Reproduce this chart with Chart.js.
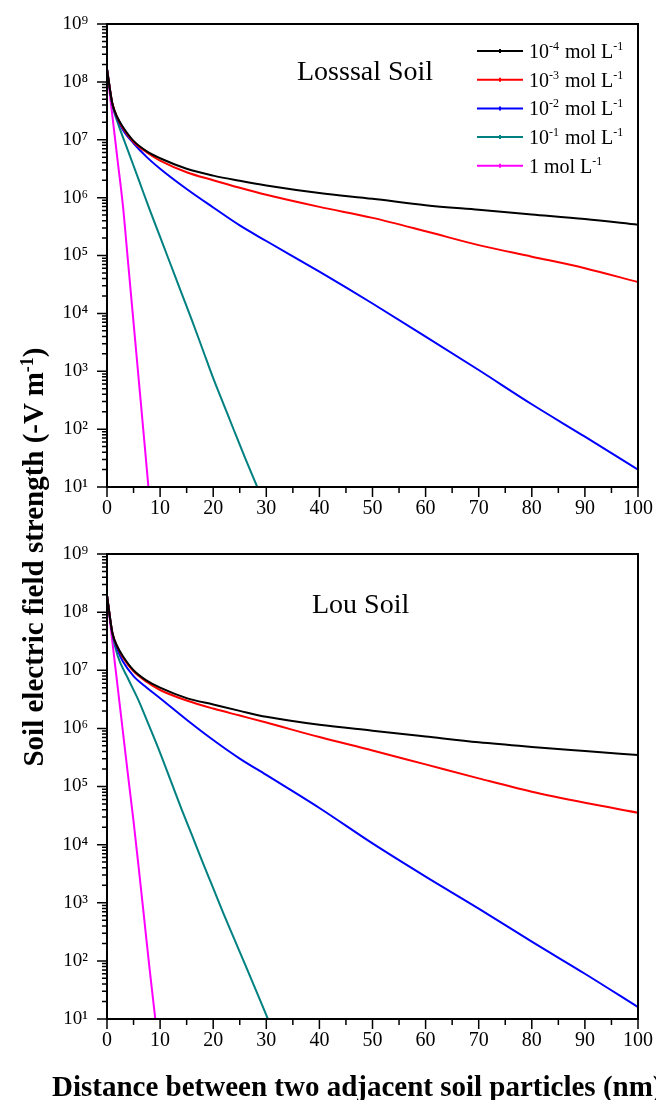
<!DOCTYPE html>
<html>
<head>
<meta charset="utf-8">
<script src="https://cdn.jsdelivr.net/npm/chart.js"></script>
<style>
  body { margin: 0; width: 656px; height: 1100px; position: relative; overflow: hidden; background: #fff; }
  canvas { position: absolute; left: 0; }
  .axis-title { position: absolute; font-family: "Liberation Serif", "Times New Roman", serif; font-weight: bold; color: #000; white-space: nowrap; }
  #ytitle { width: 500px; height: 30px; line-height: 30px; font-size: 29px; text-align: center; left: -217px; top: 542px; transform: rotate(-90deg); transform-origin: 50% 50%; }
  #xtitle { left: 52px; top: 1072px; font-size: 29px; line-height: 29px; }
  sup { font-size: 0.62em; line-height: 0; vertical-align: 0.55em; }
</style>
</head>
<body>
<canvas id="chartTop" width="656" height="535" style="top:0"></canvas>
<canvas id="chartBottom" width="656" height="565" style="top:535px"></canvas>
<div id="ytitle" class="axis-title">Soil electric field strength (-V m<sup>-1</sup>)</div>
<div id="xtitle" class="axis-title">Distance between two adjacent soil particles (nm)</div>
<script>
// distance (nm) for the three slow curves
const xMain = [0, 1, 2, 3, 5, 7.5, 10, 15, 20, 25, 30, 40, 50, 60, 70, 80, 90, 100];

const seriesLabels = ['10⁻⁴ mol L⁻¹', '10⁻³ mol L⁻¹', '10⁻² mol L⁻¹', '10⁻¹ mol L⁻¹', '1 mol L⁻¹'];
const seriesColors = ['#000000', '#ff0000', '#0000ff', '#008080', '#ff00ff'];

const yTickVals = [1e1, 1e2, 1e3, 1e4, 1e5, 1e6, 1e7, 1e8, 1e9];
const yTickLabels = ['10¹', '10²', '10³', '10⁴', '10⁵', '10⁶', '10⁷', '10⁸', '10⁹'];

/*---------------- Losssal soil ----------------*/
const lossBlack = [1.66e8, 4.27e7, 2.40e7, 1.66e7, 9.55e6, 6.31e6, 4.79e6, 3.16e6, 2.40e6, 1.95e6, 1.62e6, 1.20e6, 9.55e5, 7.41e5, 6.17e5, 5.13e5, 4.27e5, 3.39e5];
const lossRed = [1.66e8, 4.27e7, 2.34e7, 1.58e7, 9.12e6, 6.03e6, 4.37e6, 2.75e6, 2.0e6, 1.48e6, 1.12e6, 6.92e5, 4.47e5, 2.63e5, 1.51e5, 9.55e4, 6.03e4, 3.47e4];
const lossBlue = [1.66e8, 4.17e7, 2.24e7, 1.48e7, 8.71e6, 5.01e6, 3.16e6, 1.41e6, 6.76e5, 3.31e5, 1.78e5, 5.25e4, 1.48e4, 3.98e3, 1.05e3, 269, 74, 20];
const lossTealX = [0, 1, 2, 4, 6, 8, 10, 12, 14, 16, 18, 20, 22, 24, 26, 28.3];
const lossTeal = [1.66e8, 4.0e7, 2.0e7, 6.31e6, 2.0e6, 6.31e5, 2.09e5, 6.92e4, 2.29e4, 7.59e3, 2.40e3, 759, 263, 91, 32, 10];
const lossPinkX = [0, 1, 2, 3, 4, 5, 6, 7, 7.8];
const lossPink = [1.66e8, 2.63e7, 4.37e6, 7.24e5, 7.08e4, 6.92e3, 676, 66, 10];

/*---------------- Lou soil ----------------*/
const louBlack = [1.95e8, 4.47e7, 2.51e7, 1.74e7, 1.0e7, 6.61e6, 5.01e6, 3.31e6, 2.57e6, 2.0e6, 1.58e6, 1.15e6, 9.12e5, 7.24e5, 5.75e5, 4.79e5, 4.07e5, 3.47e5];
const louRed = [1.95e8, 4.47e7, 2.45e7, 1.66e7, 9.55e6, 6.31e6, 4.57e6, 3.02e6, 2.19e6, 1.66e6, 1.26e6, 7.08e5, 4.17e5, 2.40e5, 1.38e5, 8.13e4, 5.25e4, 3.55e4];
const louBlue = [1.95e8, 4.37e7, 2.24e7, 1.41e7, 7.94e6, 5.01e6, 3.31e6, 1.41e6, 6.31e5, 3.02e5, 1.58e5, 4.27e4, 1.05e4, 2.82e3, 794, 214, 60, 16];
const louTealX = [0, 1, 2, 4, 6, 8, 10, 12, 14, 16, 18, 20, 22, 24, 26, 28, 30.3];
const louTeal = [1.95e8, 4.27e7, 1.78e7, 7.08e6, 2.95e6, 1.07e6, 3.80e5, 1.26e5, 4.17e4, 1.45e4, 5.01e3, 1.78e3, 631, 234, 87, 32, 10];
const louPinkX = [0, 1, 2, 3, 4, 5, 6, 7, 8, 9.1];
const louPink = [1.95e8, 3.16e7, 5.25e6, 8.71e5, 1.45e5, 2.51e4, 3.80e3, 537, 76, 10];

const serif = '"Liberation Serif", "Times New Roman", "DejaVu Serif", serif';
const supMap = { '⁻': '-', '⁰': '0', '¹': '1', '²': '2', '³': '3', '⁴': '4', '⁵': '5', '⁶': '6', '⁷': '7', '⁸': '8', '⁹': '9' };

// writes a label, turning superscript characters into small raised text
function drawRich(ctx, text, x, y, size) {
  let i = 0;
  while (i < text.length) {
    const sup = text[i] in supMap;
    let part = '';
    while (i < text.length && (text[i] in supMap) === sup) {
      part += sup ? supMap[text[i]] : text[i];
      i++;
    }
    ctx.font = (sup ? Math.round(size * 0.6) : size) + 'px ' + serif;
    ctx.fillText(part, x, sup ? y - size * 0.4 : y);
    x += ctx.measureText(part).width + (sup ? 1 : 0);
  }
}

// box, tick marks, panel name and legend
const framePlugin = {
  id: 'frame',
  afterDatasetsDraw(chart, args, opts) {
    const ctx = chart.ctx;
    const a = chart.chartArea;
    const x = chart.scales.x, y = chart.scales.y;
    ctx.save();
    ctx.strokeStyle = '#000';
    ctx.lineWidth = 1.5;
    ctx.beginPath();
    for (let e = 1; e <= 9; e++) {
      for (let m = 1; m <= 9; m++) {
        if (e === 9 && m > 1) break;
        const py = y.getPixelForValue(m * Math.pow(10, e));
        const len = m === 1 ? 10 : 5;
        ctx.moveTo(a.left - len, py);
        ctx.lineTo(a.left, py);
      }
    }
    for (let v = 0; v <= 100; v += 5) {
      const px = x.getPixelForValue(v);
      ctx.moveTo(px, a.bottom);
      ctx.lineTo(px, a.bottom + (v % 10 ? 6 : 10));
    }
    ctx.stroke();
    ctx.lineWidth = 2;
    ctx.strokeRect(a.left, a.top, a.right - a.left, a.bottom - a.top);

    ctx.fillStyle = '#000';
    ctx.font = '28px ' + serif;
    ctx.textBaseline = 'alphabetic';
    ctx.fillText(opts.title, a.left + opts.tx, a.top + opts.ty);

    if (opts.legend) {
      chart.data.datasets.forEach(function(ds, i) {
        const ry = a.top + 27 + i * 28.7;
        ctx.strokeStyle = ds.borderColor;
        ctx.lineWidth = 2;
        ctx.beginPath();
        ctx.moveTo(a.left + 370, ry);
        ctx.lineTo(a.left + 416, ry);
        ctx.moveTo(a.left + 393, ry - 2);
        ctx.lineTo(a.left + 393, ry + 2);
        ctx.stroke();
        drawRich(ctx, ds.label, a.left + 422, ry + 7, 20);
      });
    }
    ctx.restore();
  }
};

function makeChart(id, lines, frame) {
  return new Chart(id, {
    type: 'line',
    data: {
      datasets: lines.map(function(l, i) {
        return {
          label: seriesLabels[i],
          data: l[0].map(function(xv, j) { return { x: xv, y: l[1][j] }; }),
          borderColor: seriesColors[i],
          borderWidth: 2,
          pointRadius: 0,
          cubicInterpolationMode: 'monotone',
          fill: false
        };
      })
    },
    options: {
      responsive: false,
      animation: false,
      devicePixelRatio: 1,
      layout: { padding: { top: frame.padTop, right: 18, left: 0, bottom: 0 } },
      plugins: {
        legend: { display: false },
        tooltip: { enabled: false },
        frame: frame
      },
      scales: {
        x: {
          type: 'linear', min: 0, max: 100,
          afterFit: function(s) { s.height = frame.xh; s.paddingLeft = 0; s.paddingRight = 0; },
          grid: { display: false, drawTicks: false },
          border: { display: false },
          ticks: { stepSize: 10, padding: 10, autoSkip: false, maxRotation: 0, color: '#000', font: { family: serif, size: 20 } }
        },
        y: {
          type: 'logarithmic', min: 10, max: 1e9,
          afterFit: function(s) { s.width = 107; s.paddingTop = 0; s.paddingBottom = 0; },
          afterBuildTicks: function(s) { s.ticks = yTickVals.map(function(v) { return { value: v }; }); },
          grid: { display: false, drawTicks: false },
          border: { display: false },
          ticks: {
            padding: 19, autoSkip: false, color: '#000', font: { family: serif, size: 19 },
            callback: function(v, i) { return yTickLabels[i]; }
          }
        }
      }
    },
    plugins: [framePlugin]
  });
}

makeChart('chartTop', [
  [xMain, lossBlack], [xMain, lossRed], [xMain, lossBlue], [lossTealX, lossTeal], [lossPinkX, lossPink]
], { padTop: 24, xh: 48, title: 'Losssal Soil', tx: 190, ty: 56, legend: true });

makeChart('chartBottom', [
  [xMain, louBlack], [xMain, louRed], [xMain, louBlue], [louTealX, louTeal], [louPinkX, louPink]
], { padTop: 19, xh: 81, title: 'Lou Soil', tx: 205, ty: 59, legend: false });
</script>
</body>
</html>
